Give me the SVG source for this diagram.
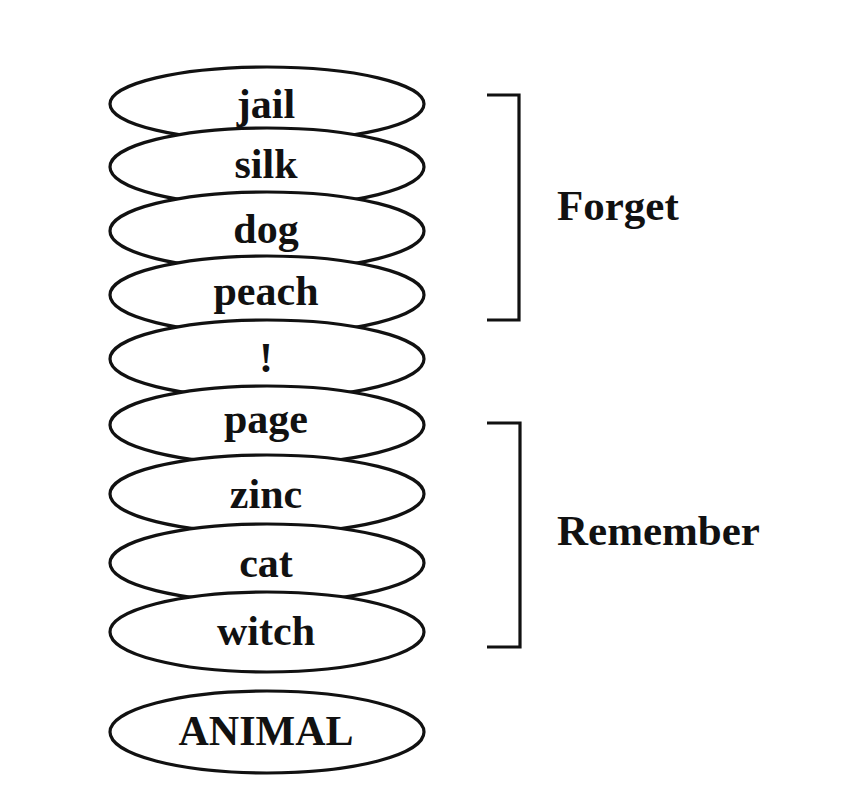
<svg xmlns="http://www.w3.org/2000/svg" width="845" height="790" viewBox="0 0 845 790">
<style>
.n ellipse{fill:#fff;stroke:#111;stroke-width:3.2}
text{font-family:"Liberation Serif","Times New Roman",serif;font-weight:bold;font-size:42px;fill:#111;text-anchor:middle}
.lbl{text-anchor:start;font-size:43px}
.br{fill:none;stroke:#111;stroke-width:3.2}
</style>
<rect width="845" height="790" fill="#fff"/>
<g id="n-jail" class="n"><ellipse cx="267" cy="104" rx="157" ry="37"/><text x="266" y="118">jail</text></g>
<g id="n-silk" class="n"><ellipse cx="267" cy="167" rx="157" ry="39"/><text x="266" y="178">silk</text></g>
<g id="n-dog" class="n"><ellipse cx="267" cy="231" rx="157" ry="39"/><text x="266" y="243">dog</text></g>
<g id="n-peach" class="n"><ellipse cx="267" cy="295" rx="157" ry="39"/><text x="266" y="305">peach</text></g>
<g id="n-bang" class="n"><ellipse cx="267" cy="359" rx="157" ry="39"/><text x="266" y="372">!</text></g>
<g id="n-page" class="n"><ellipse cx="267" cy="425" rx="157" ry="39"/><text x="266" y="433">page</text></g>
<g id="n-zinc" class="n"><ellipse cx="267" cy="494" rx="157" ry="39"/><text x="266" y="508">zinc</text></g>
<g id="n-cat" class="n"><ellipse cx="267" cy="563" rx="157" ry="39"/><text x="266" y="577">cat</text></g>
<g id="n-witch" class="n"><ellipse cx="267" cy="632" rx="157" ry="40"/><text x="266" y="645">witch</text></g>
<g id="n-animal" class="n"><ellipse cx="267" cy="732" rx="157" ry="41"/><text x="266" y="745">ANIMAL</text></g>
<g id="connectors">
<path class="br" d="M487 95 H519 V320 H487"/>
<path class="br" d="M487 423 H520 V647 H487"/>
</g>
<g id="labels">
<text class="lbl" x="557" y="220">Forget</text>
<text class="lbl" x="557" y="545">Remember</text>
</g>
</svg>
